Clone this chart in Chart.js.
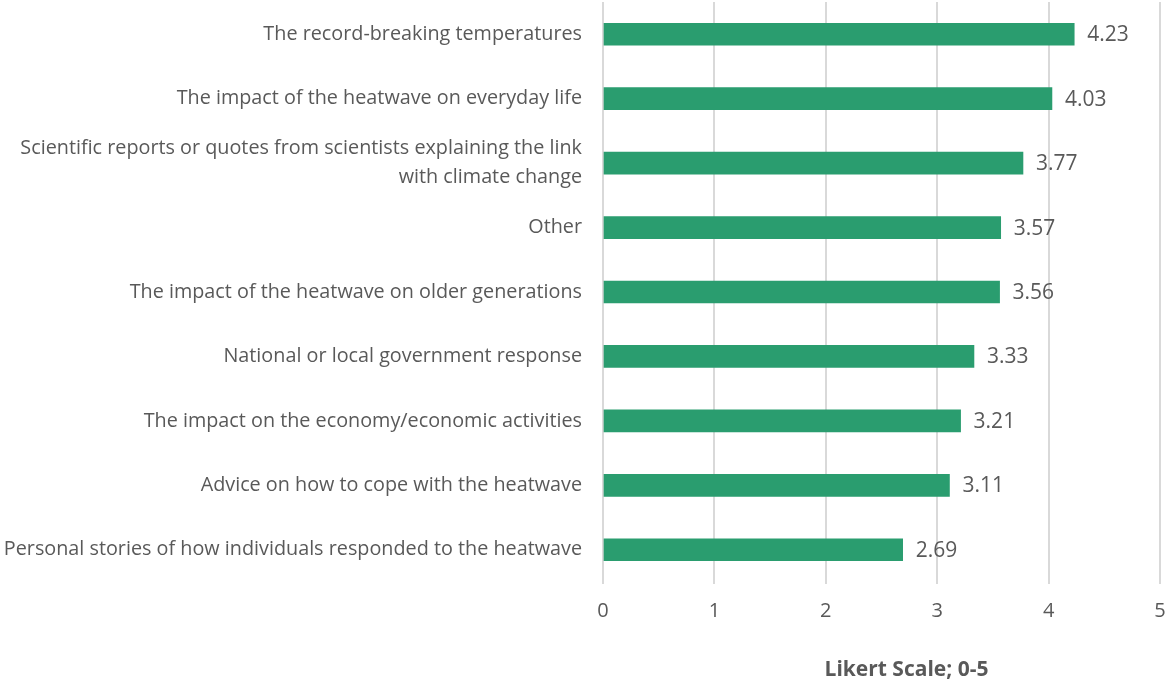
<!DOCTYPE html>
<html>
<head>
<meta charset="utf-8">
<script src="https://cdn.jsdelivr.net/npm/chart.js@4/dist/chart.umd.min.js"></script>
<style>
  html, body { margin: 0; padding: 0; background: #fff; }
  #wrap { width: 1167px; height: 685px; position: relative; }
</style>
</head>
<body>
<div id="wrap"><canvas id="likert-chart"></canvas></div>
<script>
const topics = [
    "The record-breaking temperatures",
    "The impact of the heatwave on everyday life",
    ["Scientific reports or quotes from scientists explaining the link", "with climate change"],
    "Other",
    "The impact of the heatwave on older generations",
    "National or local government response",
    "The impact on the economy/economic activities",
    "Advice on how to cope with the heatwave",
    "Personal stories of how individuals responded to the heatwave"
];
const scores = [4.23, 4.03, 3.77, 3.57, 3.56, 3.33, 3.21, 3.11, 2.69];
const scaleTicks = [0, 1, 2, 3, 4, 5];
const axisTitle = "Likert Scale; 0-5";

const textGrey = "#595959";
const fontName = "Open Sans";

// value labels just right of each bar
const valueLabels = {
    id: 'valueLabels',
    afterDatasetsDraw(chart) {
        const ctx = chart.ctx;
        const meta = chart.getDatasetMeta(0);
        ctx.save();
        ctx.font = "21px '" + fontName + "'";
        ctx.fillStyle = textGrey;
        ctx.textBaseline = 'middle';
        ctx.textAlign = 'left';
        meta.data.forEach((bar, i) => {
            ctx.fillText(scores[i].toFixed(2), bar.x + 13, bar.y + 1);
        });
        ctx.restore();
    }
};

// axis title, sits a bit right of the plot centre like the original
const axisTitlePlugin = {
    id: 'axisTitle',
    afterDraw(chart) {
        const ctx = chart.ctx;
        const area = chart.chartArea;
        ctx.save();
        ctx.font = "bold 21px '" + fontName + "'";
        ctx.fillStyle = textGrey;
        ctx.textBaseline = 'middle';
        ctx.textAlign = 'center';
        ctx.fillText(axisTitle, (area.left + area.right) / 2 + 25, 670);
        ctx.restore();
    }
};

const chartEl = document.getElementById('likert-chart');

new Chart(chartEl, {
    type: 'bar',
    data: {
        labels: topics,
        datasets: [{
            data: scores,
            backgroundColor: "#2a9d6f",
            barThickness: 22
        }]
    },
    options: {
        indexAxis: 'y',
        responsive: true,
        maintainAspectRatio: false,
        animation: false,
        layout: { padding: { top: 2, right: 7, left: 0, bottom: 47 } },
        plugins: {
            legend: { display: false },
            tooltip: { enabled: false }
        },
        scales: {
            x: {
                min: 0,
                max: 5,
                afterBuildTicks: axis => {
                    axis.ticks = scaleTicks.map(v => ({ value: v }));
                },
                afterFit: axis => {
                    axis.paddingLeft = 0;
                    axis.paddingRight = 0;
                },
                grid: {
                    color: "#d9d9d9",
                    lineWidth: 2,
                    drawTicks: true,
                    tickLength: 2
                },
                border: { display: false },
                ticks: {
                    color: textGrey,
                    font: { family: fontName, size: 20 },
                    padding: 15
                }
            },
            y: {
                grid: { display: false, drawTicks: false },
                border: { display: false },
                afterFit: axis => {
                    axis.width = 603;
                    axis.paddingTop = 0;
                    axis.paddingBottom = 0;
                },
                ticks: {
                    autoSkip: false,
                    color: textGrey,
                    font: { family: fontName, size: 19.8, lineHeight: 1.45 },
                    padding: 21
                }
            }
        }
    },
    plugins: [valueLabels, axisTitlePlugin]
});
</script>
</body>
</html>
